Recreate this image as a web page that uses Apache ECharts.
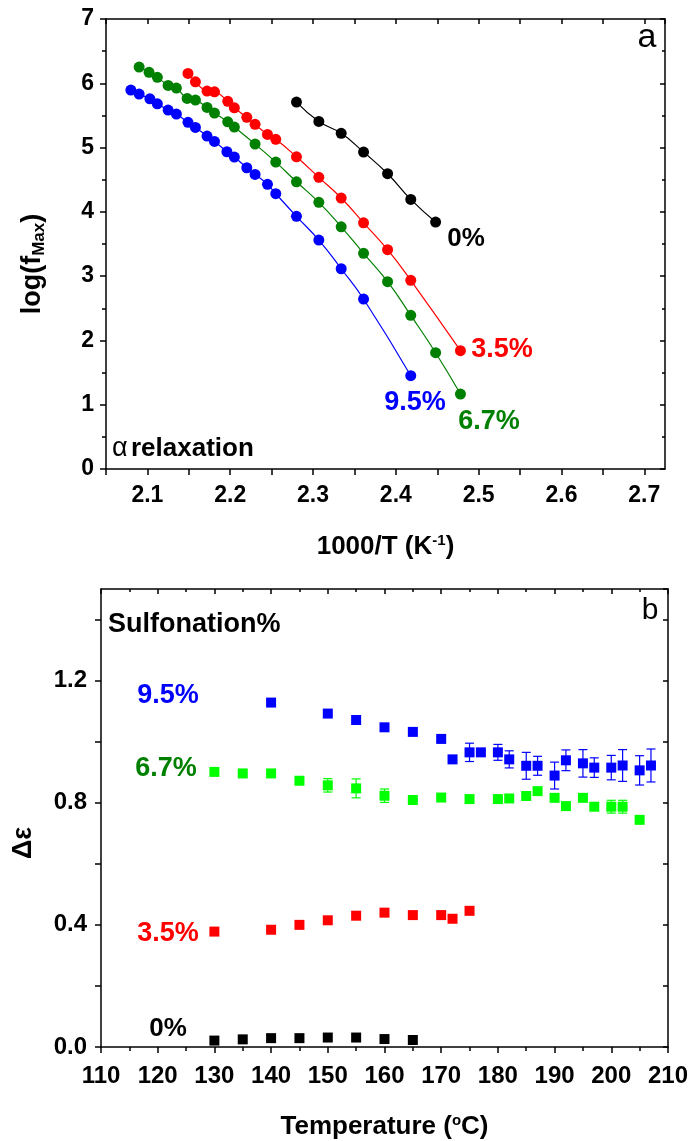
<!DOCTYPE html>
<html>
<head>
<meta charset="utf-8">
<script src="https://cdn.jsdelivr.net/npm/echarts@6/dist/echarts.min.js"></script>
<style>html,body{margin:0;padding:0;background:#fff;}#c{width:691px;height:1141px;}</style>
</head>
<body>
<div id="c"></div>
<script>
// ---------- Panel a: log(fMax) vs 1000/T ----------
var xA0  = [2.280,2.307,2.334,2.361,2.390,2.418,2.448];
var yA0  = [5.708,5.407,5.221,4.930,4.593,4.194,3.841];
var xA35 = [2.149,2.158,2.172,2.181,2.197,2.205,2.220,2.230,2.245,2.255,2.280,2.307,2.334,2.361,2.390,2.418,2.478];
var yA35 = [6.154,6.023,5.879,5.868,5.719,5.619,5.470,5.361,5.205,5.128,4.857,4.537,4.215,3.830,3.411,2.935,1.840];
var xA67 = [2.090,2.102,2.112,2.125,2.135,2.148,2.158,2.172,2.181,2.197,2.205,2.230,2.255,2.280,2.307,2.334,2.361,2.390,2.418,2.448,2.478];
var yA67 = [6.252,6.170,6.092,5.967,5.925,5.765,5.739,5.625,5.537,5.401,5.319,5.054,4.774,4.468,4.148,3.768,3.355,2.913,2.390,1.809,1.166];
var xA95 = [2.080,2.090,2.103,2.112,2.125,2.135,2.149,2.158,2.172,2.181,2.196,2.205,2.220,2.230,2.245,2.255,2.280,2.307,2.334,2.361,2.418];
var yA95 = [5.894,5.832,5.759,5.681,5.583,5.521,5.392,5.314,5.179,5.096,4.935,4.852,4.686,4.583,4.428,4.282,3.930,3.561,3.115,2.644,1.451];
var xTicksA = ['2.1','2.2','2.3','2.4','2.5','2.6','2.7'];

// ---------- Panel b: delta epsilon vs Temperature ----------
var tB0  = [130,135,140,145,150,155,160,165];
var vB0  = [0.021,0.025,0.029,0.029,0.031,0.031,0.026,0.023];
var tB35 = [130,140,145,150,155,160,165,170,172,175];
var vB35 = [0.378,0.384,0.400,0.415,0.430,0.440,0.432,0.432,0.420,0.446];
var tB67 = [130,135,140,145,150,155,160,165,170,175,180,182,185,187,190,192,195,197,200,202,205];
var vB67 = [0.901,0.896,0.896,0.872,0.857,0.847,0.823,0.809,0.817,0.812,0.812,0.814,0.822,0.838,0.816,0.789,0.816,0.787,0.787,0.787,0.744];
var eB67 = [0.003,0.003,0.003,0.006,0.022,0.031,0.022,0.003,0.003,0.003,0.003,0.003,0.003,0.003,0.003,0.003,0.003,0.003,0.021,0.021,0.003];
var tB95 = [140,150,155,160,165,170,172,175,177,180,182,185,187,190,192,195,197,200,202,205,207];
var vB95 = [1.128,1.092,1.071,1.047,1.032,1.009,0.942,0.965,0.965,0.965,0.942,0.921,0.921,0.889,0.939,0.929,0.915,0.915,0.922,0.906,0.922];
var eB95 = [0.005,0.005,0.008,0.005,0.005,0.008,0.005,0.030,0.005,0.026,0.028,0.044,0.031,0.044,0.034,0.045,0.032,0.040,0.052,0.048,0.054];
var yTicksB = ['0.0','0.4','0.8','1.2'];

var FF = '"Liberation Sans", Arial, sans-serif';
function pairs(xs, ys){ return xs.map(function(x,i){ return [x, ys[i]]; }); }
function triples(xs, ys, es){ return xs.map(function(x,i){ return [x, ys[i], es[i]]; }); }

function errSeries(color, xi, yi, data){
  return {
    type: 'custom', xAxisIndex: xi, yAxisIndex: yi, z: 1, data: data,
    renderItem: function(params, api){
      var x = api.value(0), y = api.value(1), e = api.value(2);
      var hi = api.coord([x, y + e]), lo = api.coord([x, y - e]);
      var w = 4.5, st = {stroke: color, lineWidth: 1.2};
      return {type: 'group', children: [
        {type:'line', shape:{x1:hi[0], y1:hi[1], x2:lo[0], y2:lo[1]}, style: st},
        {type:'line', shape:{x1:hi[0]-w, y1:hi[1], x2:hi[0]+w, y2:hi[1]}, style: st},
        {type:'line', shape:{x1:lo[0]-w, y1:lo[1], x2:lo[0]+w, y2:lo[1]}, style: st}
      ]};
    }
  };
}

var axisLineStyle = {color: '#000', width: 1.5};
var labelStyle = {color: '#000', fontWeight: 'bold', fontFamily: FF};

var chart = echarts.init(document.getElementById('c'), null, {renderer: 'canvas'});
var option = {
  backgroundColor: '#fff',
  animation: false,
  grid: [
    {left: 106, top: 19, width: 559, height: 450},
    {left: 101, top: 589, width: 569, height: 458}
  ],
  xAxis: [
    {gridIndex: 0, type: 'value', min: 2.05, max: 2.725, interval: 0.05, position: 'bottom',
     axisLine: {show: true, onZero: false, lineStyle: axisLineStyle},
     axisTick: {show: true, inside: false, length: 6, lineStyle: {color: '#000', width: 1.5}},
     splitLine: {show: false},
     axisLabel: Object.assign({fontSize: 23, margin: 15, showMaxLabel: false,
       formatter: function(v){ var s = v.toFixed(1); return (Math.abs(v*10 - Math.round(v*10)) < 1e-6 && xTicksA.indexOf(s) >= 0) ? s : ''; }}, labelStyle),
     name: '{a|1000/T (K}{s|-1}{a|)}', nameLocation: 'middle', nameGap: 64,
     nameTextStyle: {rich: {a: {fontSize: 26, fontWeight: 'bold', fontFamily: FF, color: '#000', lineHeight: 28},
                            s: {fontSize: 15, fontWeight: 'bold', fontFamily: FF, color: '#000', verticalAlign: 'top', lineHeight: 15}}}},
    {gridIndex: 0, type: 'value', min: 2.05, max: 2.725, interval: 0.05, position: 'top',
     axisLine: {show: true, onZero: false, lineStyle: axisLineStyle},
     axisTick: {show: true, inside: true, length: 5, lineStyle: {color: '#000', width: 1.5}},
     axisLabel: {show: false}, splitLine: {show: false}},
    {gridIndex: 1, type: 'value', min: 110, max: 210, interval: 10, position: 'bottom',
     axisLine: {show: true, onZero: false, lineStyle: axisLineStyle},
     axisTick: {show: true, inside: false, length: 6, lineStyle: {color: '#000', width: 1.5}},
     minorTick: {show: true, splitNumber: 2, length: 4, lineStyle: {color: '#000', width: 1.5}},
     splitLine: {show: false},
     axisLabel: Object.assign({fontSize: 24, margin: 17}, labelStyle),
     name: '{a|Temperature (}{s|o}{a|C)}', nameLocation: 'middle', nameGap: 66,
     nameTextStyle: {rich: {a: {fontSize: 26, fontWeight: 'bold', fontFamily: FF, color: '#000', lineHeight: 28},
                            s: {fontSize: 15, fontWeight: 'bold', fontFamily: FF, color: '#000', verticalAlign: 'top', lineHeight: 15}}}},
    {gridIndex: 1, type: 'value', min: 110, max: 210, interval: 10, position: 'top',
     axisLine: {show: true, onZero: false, lineStyle: axisLineStyle},
     axisTick: {show: true, inside: true, length: 5, lineStyle: {color: '#000', width: 1.5}},
     minorTick: {show: true, splitNumber: 2, length: 3, lineStyle: {color: '#000', width: 1.5}},
     axisLabel: {show: false}, splitLine: {show: false}}
  ],
  yAxis: [
    {gridIndex: 0, type: 'value', min: 0, max: 7, interval: 1, position: 'left',
     axisLine: {show: true, onZero: false, lineStyle: axisLineStyle},
     axisTick: {show: true, inside: false, length: 6, lineStyle: {color: '#000', width: 1.5}},
     minorTick: {show: true, splitNumber: 2, length: 4, lineStyle: {color: '#000', width: 1.5}},
     splitLine: {show: false},
     axisLabel: Object.assign({fontSize: 23, margin: 12}, labelStyle),
     name: '{a|log(f}{s|Max}{a|)}', nameLocation: 'middle', nameGap: 58, nameRotate: 90,
     nameTextStyle: {padding: [0, 40, 0, 0],
                     rich: {a: {fontSize: 27, fontWeight: 'bold', fontFamily: FF, color: '#000', lineHeight: 30},
                            s: {fontSize: 17, fontWeight: 'bold', fontFamily: FF, color: '#000', verticalAlign: 'bottom', lineHeight: 17}}}},
    {gridIndex: 0, type: 'value', min: 0, max: 7, interval: 1, position: 'right',
     axisLine: {show: true, onZero: false, lineStyle: axisLineStyle},
     axisTick: {show: true, inside: true, length: 5, lineStyle: {color: '#000', width: 1.5}},
     minorTick: {show: true, splitNumber: 2, length: 3, lineStyle: {color: '#000', width: 1.5}},
     axisLabel: {show: false}, splitLine: {show: false}},
    {gridIndex: 1, type: 'value', min: 0, max: 1.5, interval: 0.2, position: 'left',
     axisLine: {show: true, onZero: false, lineStyle: axisLineStyle},
     axisTick: {show: true, inside: false, length: 6, lineStyle: {color: '#000', width: 1.5}},
     splitLine: {show: false},
     axisLabel: Object.assign({fontSize: 24, margin: 14, showMaxLabel: false,
       formatter: function(v){ var s = v.toFixed(1); return yTicksB.indexOf(s) >= 0 && Math.abs(v*2.5 - Math.round(v*2.5)) < 1e-6 ? s : ''; }}, labelStyle),
     name: 'Δε', nameLocation: 'middle', nameGap: 64, nameRotate: 90,
     nameTextStyle: {fontSize: 27, fontWeight: 'bold', fontFamily: FF, color: '#000', padding: [0, 50, 0, 0]}},
    {gridIndex: 1, type: 'value', min: 0, max: 1.5, interval: 0.2, position: 'right',
     axisLine: {show: true, onZero: false, lineStyle: axisLineStyle},
     axisTick: {show: true, inside: true, length: 5, lineStyle: {color: '#000', width: 1.5}},
     axisLabel: {show: false}, splitLine: {show: false}}
  ],
  series: [
    {type: 'line', name: '0%', xAxisIndex: 0, yAxisIndex: 0, data: pairs(xA0, yA0), smooth: true,
     symbol: 'circle', symbolSize: 11, itemStyle: {color: '#000000'}, lineStyle: {color: '#000000', width: 1.2}},
    {type: 'line', name: '3.5%', xAxisIndex: 0, yAxisIndex: 0, data: pairs(xA35, yA35), smooth: true,
     symbol: 'circle', symbolSize: 11, itemStyle: {color: '#ff0000'}, lineStyle: {color: '#ff0000', width: 1.2}},
    {type: 'line', name: '6.7%', xAxisIndex: 0, yAxisIndex: 0, data: pairs(xA67, yA67), smooth: true,
     symbol: 'circle', symbolSize: 11, itemStyle: {color: '#008000'}, lineStyle: {color: '#008000', width: 1.2}},
    {type: 'line', name: '9.5%', xAxisIndex: 0, yAxisIndex: 0, data: pairs(xA95, yA95), smooth: true,
     symbol: 'circle', symbolSize: 11, itemStyle: {color: '#0000ff'}, lineStyle: {color: '#0000ff', width: 1.2}},

    errSeries('#00ff00', 2, 2, triples(tB67, vB67, eB67)),
    errSeries('#0000ff', 2, 2, triples(tB95, vB95, eB95)),
    {type: 'scatter', name: 'b0%', xAxisIndex: 2, yAxisIndex: 2, data: pairs(tB0, vB0),
     symbol: 'rect', symbolSize: 10, itemStyle: {color: '#000000', opacity: 1}, z: 3},
    {type: 'scatter', name: 'b3.5%', xAxisIndex: 2, yAxisIndex: 2, data: pairs(tB35, vB35),
     symbol: 'rect', symbolSize: 10, itemStyle: {color: '#ff0000', opacity: 1}, z: 3},
    {type: 'scatter', name: 'b6.7%', xAxisIndex: 2, yAxisIndex: 2, data: pairs(tB67, vB67),
     symbol: 'rect', symbolSize: 10, itemStyle: {color: '#00ff00', opacity: 1}, z: 3},
    {type: 'scatter', name: 'b9.5%', xAxisIndex: 2, yAxisIndex: 2, data: pairs(tB95, vB95),
     symbol: 'rect', symbolSize: 10, itemStyle: {color: '#0000ff', opacity: 1}, z: 3}
  ],
  graphic: [
    {type: 'text', x: 647, y: 38, style: {text: 'a', fill: '#000', font: 'normal 34px ' + FF, align: 'center', verticalAlign: 'middle'}},
    {type: 'text', x: 466, y: 239, style: {text: '0%', fill: '#000', font: 'bold 26px ' + FF, align: 'center', verticalAlign: 'middle'}},
    {type: 'text', x: 502, y: 350, style: {text: '3.5%', fill: '#ff0000', font: 'bold 27px ' + FF, align: 'center', verticalAlign: 'middle'}},
    {type: 'text', x: 415, y: 403, style: {text: '9.5%', fill: '#0000ff', font: 'bold 27px ' + FF, align: 'center', verticalAlign: 'middle'}},
    {type: 'text', x: 489, y: 422, style: {text: '6.7%', fill: '#008000', font: 'bold 27px ' + FF, align: 'center', verticalAlign: 'middle'}},
    {type: 'text', x: 112, y: 449, style: {text: '{g|α} {b|relaxation}', align: 'left', verticalAlign: 'middle',
      rich: {g: {fontSize: 27, fontFamily: FF, fontWeight: 'normal', fill: '#000'}, b: {fontSize: 26, fontFamily: FF, fontWeight: 'bold', fill: '#000'}}}},

    {type: 'text', x: 650, y: 611, style: {text: 'b', fill: '#000', font: 'normal 30px ' + FF, align: 'center', verticalAlign: 'middle'}},
    {type: 'text', x: 108, y: 625, style: {text: 'Sulfonation%', fill: '#000', font: 'bold 27px ' + FF, align: 'left', verticalAlign: 'middle'}},
    {type: 'text', x: 168, y: 696, style: {text: '9.5%', fill: '#0000ff', font: 'bold 27px ' + FF, align: 'center', verticalAlign: 'middle'}},
    {type: 'text', x: 166, y: 769, style: {text: '6.7%', fill: '#008000', font: 'bold 27px ' + FF, align: 'center', verticalAlign: 'middle'}},
    {type: 'text', x: 168, y: 934, style: {text: '3.5%', fill: '#ff0000', font: 'bold 27px ' + FF, align: 'center', verticalAlign: 'middle'}},
    {type: 'text', x: 168, y: 1029, style: {text: '0%', fill: '#000', font: 'bold 26px ' + FF, align: 'center', verticalAlign: 'middle'}}
  ]
};
chart.setOption(option);
</script>
</body>
</html>
